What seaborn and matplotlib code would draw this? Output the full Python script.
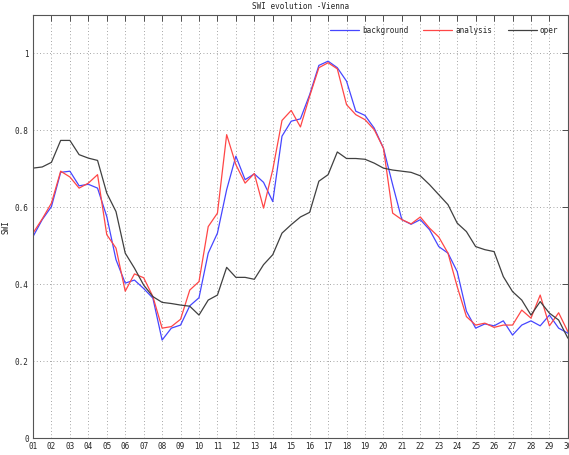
import numpy as np
import pandas as pd
import seaborn as sns
from matplotlib import pyplot as plt
from matplotlib.ticker import FuncFormatter

# half-daily values, day 1 .. day 30
days = np.arange(1, 30.01, 0.5)

background = [0.524, 0.568, 0.602, 0.691, 0.694, 0.656, 0.660, 0.650, 0.576, 0.464,
              0.403, 0.411, 0.389, 0.364, 0.255, 0.286, 0.294, 0.344, 0.365, 0.481,
              0.533, 0.646, 0.733, 0.672, 0.687, 0.665, 0.615, 0.785, 0.824, 0.830,
              0.893, 0.969, 0.980, 0.963, 0.928, 0.850, 0.839, 0.806, 0.754, 0.659,
              0.568, 0.556, 0.568, 0.542, 0.498, 0.481, 0.433, 0.330, 0.286, 0.297,
              0.292, 0.305, 0.268, 0.294, 0.305, 0.292, 0.320, 0.286, 0.273]

analysis = [0.533, 0.570, 0.611, 0.694, 0.679, 0.650, 0.663, 0.685, 0.529, 0.494,
            0.382, 0.427, 0.417, 0.368, 0.286, 0.290, 0.309, 0.385, 0.407, 0.550,
            0.585, 0.789, 0.711, 0.663, 0.688, 0.598, 0.698, 0.826, 0.852, 0.809,
            0.889, 0.963, 0.976, 0.960, 0.867, 0.841, 0.828, 0.802, 0.754, 0.585,
            0.568, 0.557, 0.575, 0.546, 0.523, 0.481, 0.394, 0.316, 0.294, 0.299,
            0.288, 0.294, 0.294, 0.333, 0.312, 0.372, 0.292, 0.326, 0.277]

oper = [0.702, 0.705, 0.717, 0.774, 0.774, 0.737, 0.728, 0.722, 0.637, 0.589,
        0.481, 0.442, 0.398, 0.368, 0.353, 0.350, 0.346, 0.343, 0.320, 0.359,
        0.372, 0.444, 0.418, 0.418, 0.413, 0.451, 0.477, 0.533, 0.555, 0.575,
        0.587, 0.668, 0.685, 0.744, 0.727, 0.727, 0.725, 0.715, 0.702, 0.697,
        0.694, 0.691, 0.682, 0.659, 0.633, 0.607, 0.559, 0.537, 0.498, 0.490,
        0.485, 0.420, 0.381, 0.359, 0.320, 0.355, 0.325, 0.307, 0.260]

day_labels = ["%02d" % d for d in range(1, 31)]
series = ["background", "analysis", "oper"]
colors = {"background": "#4646ff", "analysis": "#ff4646", "oper": "#404040"}

df = pd.concat([
    pd.DataFrame({"day": days, "SWI": background, "series": "background"}),
    pd.DataFrame({"day": days, "SWI": analysis, "series": "analysis"}),
    pd.DataFrame({"day": days, "SWI": oper, "series": "oper"}),
])

sns.set_style("white")
plt.rcParams["font.family"] = ["DejaVu Sans Mono"]

fig = plt.figure(figsize=(5.69, 4.55), dpi=100)
ax = fig.add_axes([0.058, 0.037, 0.940, 0.930])

sns.lineplot(data=df, x="day", y="SWI", hue="series", hue_order=series,
             palette=colors, linewidth=0.9, ax=ax)

ax.set_xlim(1, 30)
ax.set_ylim(0, 1.1)
ax.set_xticks(range(1, 31))
ax.set_xticklabels(day_labels)
ax.set_yticks([0, 0.2, 0.4, 0.6, 0.8, 1.0])
ax.yaxis.set_major_formatter(FuncFormatter(lambda v, p: "%g" % v))
ax.tick_params(direction="in", length=4, width=0.6, labelsize=5.5, color="#333333",
               top=True, right=True, pad=3)
ax.grid(True, linestyle=(0, (1, 3)), color="#888888", linewidth=0.6)
for s in ax.spines.values():
    s.set_color("#555555")
    s.set_linewidth(0.8)

ax.set_xlabel("")
ax.set_ylabel("SWI", fontsize=5.5)
ax.yaxis.set_label_coords(-0.042, 0.5)
ax.set_title("SWI evolution -Vienna", fontsize=5.5, pad=4)

ax.legend(loc="upper right", ncol=3, frameon=False, fontsize=5.5, handlelength=3.8,
          columnspacing=2.0, handletextpad=0.4, bbox_to_anchor=(0.995, 0.99))

plt.savefig("out.png", dpi=100)
plt.close()
